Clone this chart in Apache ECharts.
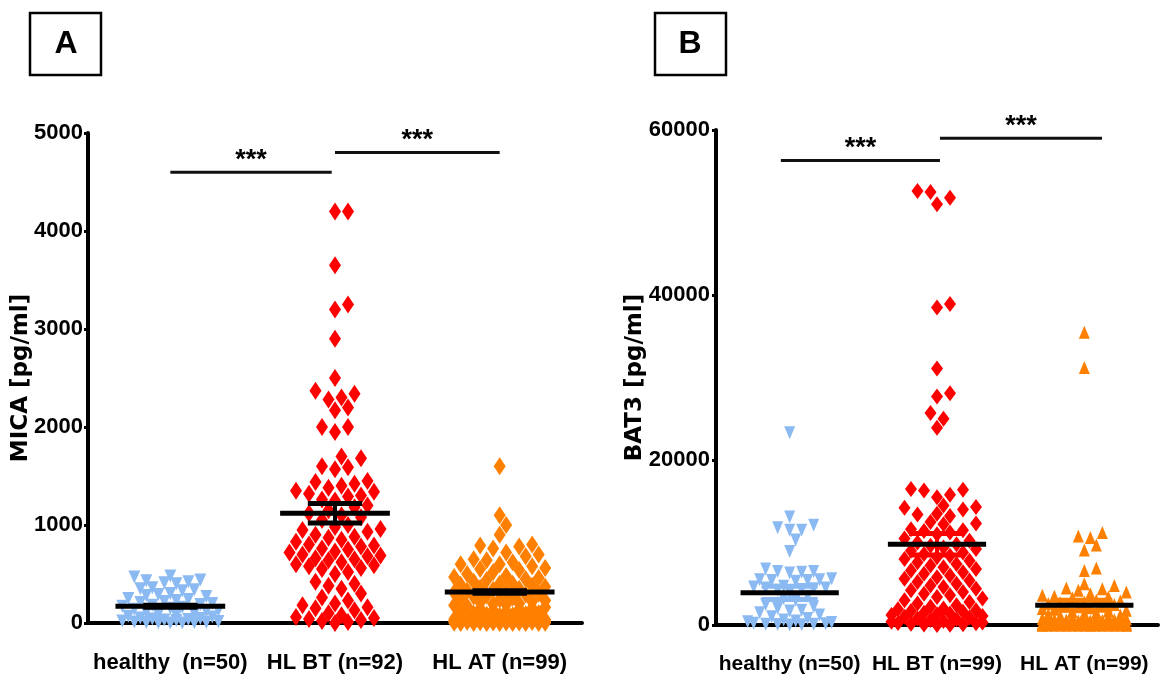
<!DOCTYPE html>
<html>
<head>
<meta charset="utf-8">
<script src="https://cdn.jsdelivr.net/npm/echarts@6/dist/echarts.min.js"></script>
<style>
html,body{margin:0;padding:0;background:#fff;}
#chart{width:1160px;height:684px;}
</style>
</head>
<body>
<div id="chart"></div>
<script>
// ---------------- DATA ----------------
const CATS_A = ['healthy  (n=50)', 'HL BT (n=92)', 'HL AT (n=99)'];
const CATS_B = ['healthy (n=50)', 'HL BT (n=99)', 'HL AT (n=99)'];
const Y_TICKS_A = [0, 1000, 2000, 3000, 4000, 5000];
const Y_TICKS_B = [0, 20000, 40000, 60000];

// Panel A: MICA [pg/ml]
const A_HEALTHY = [480,470,440,430,420,410,400,360,350,340,
  330,300,290,280,270,250,240,230,220,210,
  200,190,180,170,160,150,140,130,120,110,
  100,90,80,70,60,50,45,40,35,30,
  25,20,15,10,8,5,3,2,1,0];
const A_BT = [4200,4200,3650,3250,3200,2900,2500,2370,2340,2300,2280,2200,2170,2000,2000,1950,1700,1680,1600,1590,1570,
  1450,1440,1420,1400,1380,1350,1340,1320,1300,1290,1260,1250,1200,1180,1150,1120,1100,1080,1050,1000,
  980,960,950,930,900,880,870,850,830,800,790,780,760,750,730,720,700,690,680,660,
  650,640,620,600,590,580,560,550,520,500,
  420,400,380,350,300,260,230,200,180,160,150,130,100,80,60,50,40,30,20,10,0];
const A_AT = [1600,1100,1000,900,800,790,780,760,720,700,680,650,640,620,600,600,580,560,550,540,
  520,500,480,470,460,450,440,420,400,400,390,380,370,360,350,340,330,320,310,300,
  290,280,270,260,250,240,230,220,210,200,195,190,180,170,160,150,145,140,130,120,
  110,100,95,90,85,80,75,70,65,60,55,50,45,40,38,35,32,30,28,25,
  22,20,18,15,12,10,8,6,5,4,3,2,1,0,0,0,0,0,0];
const A_MEAN = [170, 1120, 316];
const A_SEM = [10, 100, 12];
// significance brackets: [from category, to category, level]
const A_SIG = [[1, 1.98, 4600], [2, 3, 4800]];

// Panel B: BAT3 [pg/ml]
const B_HEALTHY = [23300,13100,12100,11800,11500,11500,10300,8900,6800,6500,
  6500,6400,6300,5600,5500,5500,5400,5400,5300,4700,
  4600,4500,4500,4400,4300,4200,4000,3500,3200,3000,
  2500,2200,2000,1800,1700,1500,1200,1000,800,600,
  500,400,300,200,150,100,80,50,20,0];
const B_BT = [52600,52500,51800,51000,38900,38500,31100,28100,27700,25700,25000,23900,
  16500,16400,16300,15800,15500,14500,14300,14200,14000,13500,13400,13200,12500,12300,12200,11600,11500,11400,11200,11000,
  10500,10200,10000,9800,9600,9400,9200,9000,8800,8600,8400,8200,8000,7800,7600,7400,7200,7000,6800,6600,
  6400,6200,6000,5800,5600,5400,5200,5000,4800,4600,4400,4200,4000,3800,3600,3400,3200,3000,2800,2600,
  2400,2200,2000,1900,1800,1700,1600,1500,1400,1300,1200,1100,1000,900,800,700,600,500,400,300,
  250,200,150,100,50,20,0];
const B_AT = [35500,31200,11200,10800,10600,9700,9100,6900,6600,5000,4800,4500,4400,4200,4000,3800,3600,3500,3400,3300,
  3000,2900,2800,2700,2600,2500,2400,2300,2200,2100,2000,1900,1800,1700,1600,1500,1400,1300,1200,1100,1000,
  950,900,850,800,750,700,650,600,550,500,
  480,450,420,400,380,350,320,300,280,250,
  230,200,180,160,150,140,120,100,90,80,
  70,60,50,45,40,35,30,25,20,18,
  15,12,10,8,6,5,4,3,2,1,0,0,0,0,0,0,0,0];
const B_MEAN = [3900, 9800, 2400];
const B_SEM = [800, 1300, 600];
const B_SIG = [[0.94, 2.02, 56300], [2.02, 3.12, 59000]];

// ---------------- LAYOUT / STYLE ----------------
const BLUE = '#8BBAF3', RED = '#FF0000', ORANGE = '#FF8000';
const LABEL_FONT = "'Liberation Sans Narrow', 'Arial Narrow', 'Liberation Sans', Arial, sans-serif";
const GA = {left: 88, top: 133, width: 494, height: 490};
const GB = {left: 716, top: 130, width: 442, height: 495};
const PAD = 0.5;
const YMAX_A = 5000, YMAX_B = 60000;

// beeswarm: spread points horizontally (pixel space) so they overlap as little as possible
function swarm(values, center, pxPerX, pxPerY, w, h, maxOff) {
  const step = w / 2;
  const n = Math.floor(maxOff / step);
  const cands = [0];
  for (let k = 1; k <= n; k++) { cands.push(k * step, -k * step); }
  const order = values.map((v, i) => i).sort((a, b) => values[a] - values[b]);
  const placed = [];
  const out = new Array(values.length);
  for (const i of order) {
    const y = values[i] * pxPerY;
    let best = 0, bestScore = Infinity;
    for (const c of cands) {
      let ov = 0;
      for (const p of placed) {
        const d = Math.abs(p.x - c) / w + Math.abs(p.y - y) / h;
        if (d < 1) ov += (1 - d);
      }
      const score = ov * 1000 + Math.abs(c) * 0.001;
      if (score < bestScore) { bestScore = score; best = c; }
    }
    placed.push({x: best, y: y});
    out[i] = [center + best / pxPerX, values[i]];
  }
  return out;
}

const pxA = GA.width / (2 + 2 * PAD), pyA = GA.height / YMAX_A;
const pxB = GB.width / (2 + 2 * PAD), pyB = GB.height / YMAX_B;

function xValueAxis(grid) {
  return {
    type: 'value', gridIndex: grid, min: 1 - PAD, max: 3 + PAD,
    splitLine: {show: false},
    axisLine: {lineStyle: {color: '#000', width: 4}},
    axisTick: {show: false},
    axisLabel: {show: false}
  };
}
function xCatAxis(grid, cats, margin, size) {
  return {
    type: 'category', gridIndex: grid, data: cats, boundaryGap: true, position: 'bottom',
    axisLine: {show: false}, axisTick: {show: false}, splitLine: {show: false},
    axisLabel: {interval: 0, margin: margin, fontFamily: LABEL_FONT, fontWeight: 'bold', fontSize: size, color: '#000'}
  };
}
function yAxisCfg(grid, max, interval, name, gap, margin) {
  return {
    type: 'value', gridIndex: grid, min: 0, max: max, interval: interval,
    name: name, nameLocation: 'middle', nameRotate: 90, nameGap: gap, nameMoveOverlap: false,
    nameTextStyle: {fontFamily: "'DejaVu Sans', sans-serif", fontWeight: 'bold', fontSize: 23, color: '#000'},
    splitLine: {show: false},
    axisLine: {show: true, lineStyle: {color: '#000', width: 4}},
    axisTick: {show: true, length: 4, lineStyle: {color: '#000', width: 3}},
    axisLabel: {margin: margin, formatter: v => String(v), fontFamily: LABEL_FONT, fontWeight: 'bold', fontSize: 22, color: '#000'}
  };
}

function scatter(axisIdx, data, color, symbol, size, rotate) {
  return {
    type: 'scatter', xAxisIndex: axisIdx, yAxisIndex: axisIdx, data: data,
    symbol: symbol, symbolSize: size, symbolRotate: rotate || 0,
    itemStyle: {color: color, opacity: 1}, clip: false, z: 2, silent: true
  };
}

function meanSeries(axisIdx, means, sems, capColors, meanHalf, capHalf) {
  return {
    type: 'custom', xAxisIndex: axisIdx, yAxisIndex: axisIdx, clip: false, z: 4, silent: true,
    data: means.map((m, i) => [i + 1, m, sems[i], i]),
    encode: {x: 0, y: 1},
    renderItem: function (params, api) {
      const x = api.value(0), m = api.value(1), s = api.value(2), i = api.value(3);
      const col = capColors[i];
      const top = api.coord([x, m + s]), bot = api.coord([x, m - s]);
      const cl = api.coord([x - capHalf, m + s]), cr = api.coord([x + capHalf, m + s]);
      const bl = api.coord([x - capHalf, m - s]), br = api.coord([x + capHalf, m - s]);
      const ml = api.coord([x - meanHalf, m]), mr = api.coord([x + meanHalf, m]);
      return {
        type: 'group',
        children: [
          {type: 'line', shape: {x1: top[0], y1: top[1], x2: bot[0], y2: bot[1]}, style: {stroke: col, lineWidth: 4}},
          {type: 'line', shape: {x1: cl[0], y1: cl[1], x2: cr[0], y2: cr[1]}, style: {stroke: col, lineWidth: 5}},
          {type: 'line', shape: {x1: bl[0], y1: bl[1], x2: br[0], y2: br[1]}, style: {stroke: col, lineWidth: 5}},
          {type: 'line', shape: {x1: ml[0], y1: ml[1], x2: mr[0], y2: mr[1]}, style: {stroke: '#000', lineWidth: 5}}
        ]
      };
    }
  };
}

function sigSeries(axisIdx, sig) {
  return {
    type: 'custom', xAxisIndex: axisIdx, yAxisIndex: axisIdx, clip: false, z: 4, silent: true,
    data: sig.map(s => [s[0], s[2], s[1]]),
    encode: {x: 0, y: 1},
    renderItem: function (params, api) {
      const a = api.coord([api.value(0), api.value(1)]);
      const b = api.coord([api.value(2), api.value(1)]);
      return {
        type: 'group',
        children: [
          {type: 'line', shape: {x1: a[0], y1: a[1], x2: b[0], y2: b[1]}, style: {stroke: '#111', lineWidth: 3}},
          {type: 'text', style: {text: '***', x: (a[0] + b[0]) / 2, y: a[1] - 12, align: 'center', verticalAlign: 'middle',
            font: "bold 27px 'Liberation Sans', Arial, sans-serif", fill: '#000'}}
        ]
      };
    }
  };
}

const chart = echarts.init(document.getElementById('chart'), null, {renderer: 'canvas'});
chart.setOption({
  backgroundColor: '#fff',
  animation: false,
  grid: [
    {left: GA.left, top: GA.top, width: GA.width, height: GA.height, outerBoundsMode: 'none', containLabel: false},
    {left: GB.left, top: GB.top, width: GB.width, height: GB.height, outerBoundsMode: 'none', containLabel: false}
  ],
  xAxis: [xValueAxis(0), xValueAxis(1), xCatAxis(0, CATS_A, 29, 22), xCatAxis(1, CATS_B, 29, 21)],
  yAxis: [
    yAxisCfg(0, YMAX_A, Y_TICKS_A[1] - Y_TICKS_A[0], 'MICA [pg/ml]', 55, 5),
    yAxisCfg(1, YMAX_B, Y_TICKS_B[1] - Y_TICKS_B[0], 'BAT3 [pg/ml]', 69, 6)
  ],
  graphic: [
    {type: 'rect', shape: {x: 30, y: 13, width: 71, height: 62}, style: {fill: '#fff', stroke: '#000', lineWidth: 2.5}},
    {type: 'text', style: {text: 'A', x: 66, y: 44, align: 'center', verticalAlign: 'middle', font: "bold 32px 'Liberation Sans', Arial, sans-serif", fill: '#000'}},
    {type: 'rect', shape: {x: 655, y: 13, width: 71, height: 62}, style: {fill: '#fff', stroke: '#000', lineWidth: 2.5}},
    {type: 'text', style: {text: 'B', x: 690, y: 44, align: 'center', verticalAlign: 'middle', font: "bold 32px 'Liberation Sans', Arial, sans-serif", fill: '#000'}}
  ],
  series: [
    scatter(0, swarm(A_HEALTHY, 1, pxA, pyA, 12, 13, 50), BLUE, 'triangle', [12, 13], 180),
    scatter(0, swarm(A_BT, 2, pxA, pyA, 13, 18, 50), RED, 'diamond', [12, 18]),
    scatter(0, swarm(A_AT, 3, pxA, pyA, 13, 18, 50), ORANGE, 'diamond', [12, 18]),
    scatter(1, swarm(B_HEALTHY, 1, pxB, pyB, 12, 13, 46), BLUE, 'triangle', [11, 13], 180),
    scatter(1, swarm(B_BT, 2, pxB, pyB, 13, 16, 46), RED, 'diamond', [12, 16]),
    scatter(1, swarm(B_AT, 3, pxB, pyB, 12, 13, 46), ORANGE, 'triangle', [11, 13]),
    meanSeries(0, A_MEAN, A_SEM, ['#000', '#000', '#000'], 1 / 3, 0.165),
    meanSeries(1, B_MEAN, B_SEM, [BLUE, RED, ORANGE], 1 / 3, 0.19),
    sigSeries(0, A_SIG),
    sigSeries(1, B_SIG)
  ]
});
</script>
</body>
</html>
